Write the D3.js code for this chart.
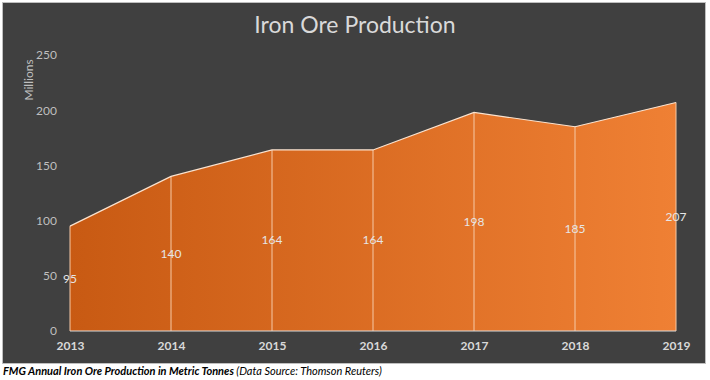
<!DOCTYPE html>
<html>
<head>
<meta charset="utf-8">
<script src="https://cdn.jsdelivr.net/npm/d3@7"></script>
<style>
  body { margin: 0; background: #fff; }
  svg { display: block; }
</style>
</head>
<body>
<svg id="chart" width="710" height="380"></svg>
<script>
const years = ["2013", "2014", "2015", "2016", "2017", "2018", "2019"];
const production = [95, 140, 164, 164, 198, 185, 207];
const yTicks = [0, 50, 100, 150, 200, 250];

const svg = d3.select("#chart");
const font = "Lato, 'Open Sans', sans-serif";

// panel
svg.append("rect")
    .attr("x", 2.5).attr("y", 2.5)
    .attr("width", 703).attr("height", 361)
    .attr("fill", "#404040")
    .attr("stroke", "#bfbfbf");

const x = d3.scalePoint().domain(years).range([70, 676]);
const y = d3.scaleLinear().domain([0, 250]).range([331, 55]);

const grad = svg.append("defs").append("linearGradient")
    .attr("id", "fill").attr("x1", "0%").attr("x2", "100%").attr("y1", "0%").attr("y2", "0%");
grad.append("stop").attr("offset", "0%").attr("stop-color", "#c85a13");
grad.append("stop").attr("offset", "100%").attr("stop-color", "#ef8034");

const rows = years.map((yr, i) => ({ yr, v: production[i] }));

const area = d3.area().x(d => x(d.yr)).y0(y(0)).y1(d => y(d.v));
svg.append("path").datum(rows)
    .attr("d", area)
    .attr("fill", "url(#fill)");

// drop lines
svg.append("g").selectAll("line").data(rows).join("line")
    .attr("x1", d => x(d.yr)).attr("x2", d => x(d.yr))
    .attr("y1", d => y(d.v)).attr("y2", y(0))
    .attr("stroke", "#f6c9a6").attr("stroke-width", 1);

// top edge
svg.append("path").datum(rows)
    .attr("d", d3.line().x(d => x(d.yr)).y(d => y(d.v)))
    .attr("fill", "none").attr("stroke", "#fbe3cf").attr("stroke-width", 1.2);

// baseline
svg.append("line")
    .attr("x1", 70).attr("x2", 676).attr("y1", y(0)).attr("y2", y(0))
    .attr("stroke", "#d9d9d9").attr("stroke-width", 1);

// value labels at mid height
svg.append("g").selectAll("text").data(rows).join("text")
    .attr("x", d => x(d.yr))
    .attr("y", d => y(d.v / 2) + 4)
    .attr("text-anchor", "middle")
    .attr("font-family", font).attr("font-size", 12)
    .attr("fill", "#e6e6e6")
    .text(d => d.v);

// y axis
const yAxis = svg.append("g")
    .attr("transform", "translate(57,0)")
    .call(d3.axisLeft(y).tickValues(yTicks).tickSize(0).tickPadding(0));
yAxis.select(".domain").remove();
yAxis.selectAll("text")
    .attr("font-family", font).attr("font-size", 12)
    .attr("fill", "#bfbfbf");

// x axis
const xAxis = svg.append("g")
    .attr("transform", `translate(0,${y(0)})`)
    .call(d3.axisBottom(x).tickSize(0).tickPadding(10));
xAxis.select(".domain").remove();
xAxis.selectAll("text")
    .attr("font-family", font).attr("font-size", 12)
    .attr("font-weight", "bold")
    .attr("fill", "#d9d9d9");

svg.append("text")
    .attr("transform", "translate(33,80) rotate(-90)")
    .attr("text-anchor", "middle")
    .attr("font-family", font).attr("font-size", 12)
    .attr("fill", "#bfbfbf")
    .text("Millions");

svg.append("text")
    .attr("x", 355).attr("y", 33)
    .attr("text-anchor", "middle")
    .attr("font-family", font).attr("font-size", 23)
    .attr("fill", "#d9d9d9")
    .text("Iron Ore Production");

const cap = svg.append("text")
    .attr("x", 3).attr("y", 375)
    .attr("font-family", font).attr("font-size", 11)
    .attr("font-style", "italic").attr("fill", "#000");
cap.append("tspan").attr("font-weight", "bold").text("FMG Annual Iron Ore Production in Metric Tonnes ");
cap.append("tspan").text("(Data Source: Thomson Reuters)");
</script>
</body>
</html>
